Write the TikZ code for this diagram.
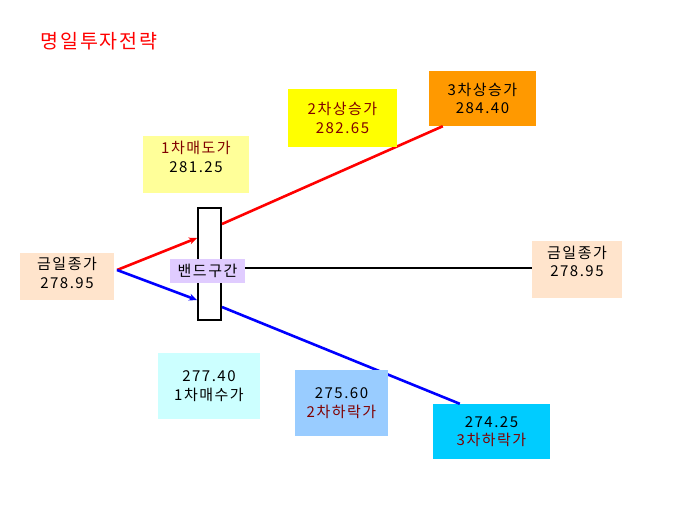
\documentclass[tikz,border=0pt]{standalone}
\usepackage{fontspec}
\setmainfont{Noto Sans CJK KR}[LetterSpace=10]
\usepackage{xcolor}
\usetikzlibrary{arrows.meta}

\definecolor{darkwine}{HTML}{800000}
\definecolor{sellyellow}{HTML}{FFFF99}
\definecolor{riseyellow}{HTML}{FFFF00}
\definecolor{riseorange}{HTML}{FF9900}
\definecolor{closepeach}{HTML}{FFE4CC}
\definecolor{bandlilac}{HTML}{E0CCFF}
\definecolor{buycyan}{HTML}{CCFFFF}
\definecolor{fallblue}{HTML}{99CCFF}
\definecolor{fallcyan}{HTML}{00CCFF}

\tikzset{
  pricebox/.style={inner sep=0pt, align=center, font=\fontsize{15}{18.5}\selectfont},
  upline/.style={red, line width=2.6pt},
  downline/.style={blue, line width=2.6pt},
}

\begin{document}
\begin{tikzpicture}[x=1pt,y=-1pt]
\useasboundingbox (0,0) rectangle (677,515);

\node[text=red, inner sep=0pt, font=\fontsize{19.5}{22}\selectfont] (title) at (99,41) {명일투자전략};

% boxes
\node[pricebox, fill=closepeach, minimum width=94pt, minimum height=47pt] (close) at (67,276.5) {};
\node[pricebox] at ([yshift=3.5pt]close.center) {금일종가\\278.95};

\node[pricebox, fill=sellyellow, minimum width=106pt, minimum height=57pt] (sell1) at (196,164.5) {};
\node[pricebox] at ([yshift=7.5pt]sell1.center) {\textcolor{darkwine}{1차매도가}\\281.25};

\node[pricebox, fill=riseorange, minimum width=107pt, minimum height=55pt] (rise3) at (482.5,98.5) {3차상승가\\284.40};

\node[pricebox, fill=closepeach, minimum width=90pt, minimum height=57pt] (closeR) at (577,269.5) {};
\node[pricebox] at ([yshift=8pt]closeR.center) {금일종가\\278.95};

\node[pricebox, fill=buycyan, minimum width=102pt, minimum height=66pt] (buy1) at (209,386) {277.40\\1차매수가};

\node[pricebox, fill=fallcyan, minimum width=117pt, minimum height=55pt] (fall3) at (491.5,431.5) {274.25\\\textcolor{darkwine}{3차하락가}};

\node[draw, line width=2pt, fill=white, minimum width=23pt, minimum height=112pt] (band) at (209.5,264) {};

% lines
\coordinate (fork) at (117,270);
\draw[upline, -{Stealth[length=8pt,width=7pt]}] (fork) -- ([yshift=26pt]band.west);
\draw[downline, -{Stealth[length=8pt,width=7pt]}] (fork) -- ([yshift=-36pt]band.west);
\draw[upline] ([yshift=40pt]band.east) -- ([xshift=14pt]rise3.south west);
\draw[downline] ([yshift=-43pt]band.east) -- ([xshift=27pt]fall3.north west);

\node[pricebox, fill=riseyellow, text=darkwine, minimum width=109pt, minimum height=58pt] (rise2) at (342.5,118) {2차상승가\\282.65};
\node[pricebox, fill=fallblue, minimum width=93pt, minimum height=66pt] (fall2) at (341.5,403) {275.60\\\textcolor{darkwine}{2차하락가}};

\node[pricebox, fill=bandlilac, minimum width=75pt, minimum height=24pt] (bandlabel) at (207.5,271) {밴드구간};
\draw[line width=1.6pt] ([yshift=3pt]bandlabel.east) -- ([yshift=1.5pt]closeR.west);
\end{tikzpicture}
\end{document}
